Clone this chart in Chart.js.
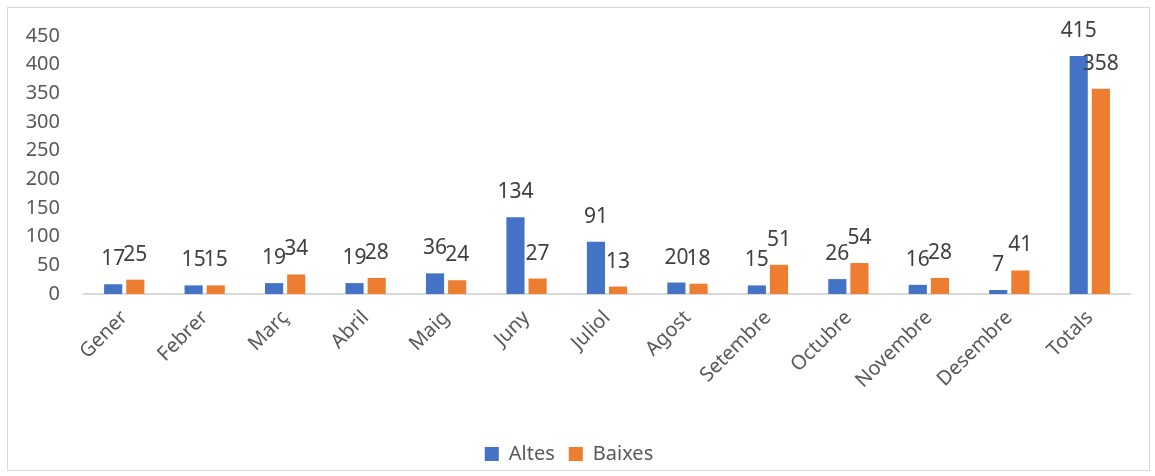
<!DOCTYPE html>
<html>
<head>
<meta charset="utf-8">
<script src="https://cdn.jsdelivr.net/npm/chart.js@4"></script>
<style>
  body { margin: 0; background: #fff; }
  #box {
    position: absolute; left: 7px; top: 7px;
    width: 1141px; height: 462px;
    border: 1px solid #d9d9d9;
  }
</style>
</head>
<body>
<div id="box"><canvas id="chart" width="1141" height="462"></canvas></div>
<script>
const mesos = ["Gener", "Febrer", "Març", "Abril", "Maig", "Juny", "Juliol",
  "Agost", "Setembre", "Octubre", "Novembre", "Desembre", "Totals"];
const altes = [17, 15, 19, 19, 36, 134, 91, 20, 15, 26, 16, 7, 415];
const baixes = [25, 15, 34, 28, 24, 27, 13, 18, 51, 54, 28, 41, 358];

const FONT = "'Noto Sans', sans-serif";

// etiquetes de valor damunt de cada barra
const valueLabels = {
  id: "valueLabels",
  afterDatasetsDraw(chart) {
    const ctx = chart.ctx;
    ctx.save();
    ctx.font = "21px " + FONT;
    ctx.fillStyle = "#404040";
    ctx.textAlign = "center";
    ctx.textBaseline = "middle";
    chart.data.datasets.forEach((ds, i) => {
      chart.getDatasetMeta(i).data.forEach((bar, j) => {
        ctx.fillText(ds.data[j], bar.x, bar.y - 25);
      });
    });
    ctx.restore();
  },
};

new Chart(document.getElementById("chart"), {
  type: "bar",
  data: {
    labels: mesos,
    datasets: [
      { label: "Altes", data: altes, backgroundColor: "#4472C4" },
      { label: "Baixes", data: baixes, backgroundColor: "#ED7D31" },
    ],
  },
  options: {
    responsive: false,
    animation: false,
    categoryPercentage: 0.55,
    barPercentage: 0.82,
    layout: { padding: { top: 26, right: 19, left: 0, bottom: -4 } },
    plugins: {
      legend: {
        position: "bottom",
        labels: {
          font: { family: FONT, size: 20 },
          color: "#595959",
          boxWidth: 14,
          boxHeight: 14,
          padding: 14,
        },
      },
      tooltip: { enabled: false },
    },
    scales: {
      x: {
        grid: { display: false },
        border: { display: true, color: "#d9d9d9", width: 2 },
        ticks: {
          font: { family: FONT, size: 20 },
          color: "#595959",
          minRotation: 45,
          maxRotation: 45,
          padding: 4,
        },
        afterFit(scale) { scale.height = 136; },
      },
      y: {
        min: 0,
        max: 450,
        grid: { display: false },
        border: { display: false },
        ticks: {
          stepSize: 50,
          font: { family: FONT, size: 20 },
          color: "#595959",
          padding: 16,
        },
        afterFit(scale) { scale.width = 76; },
      },
    },
  },
  plugins: [valueLabels],
});
</script>
</body>
</html>
